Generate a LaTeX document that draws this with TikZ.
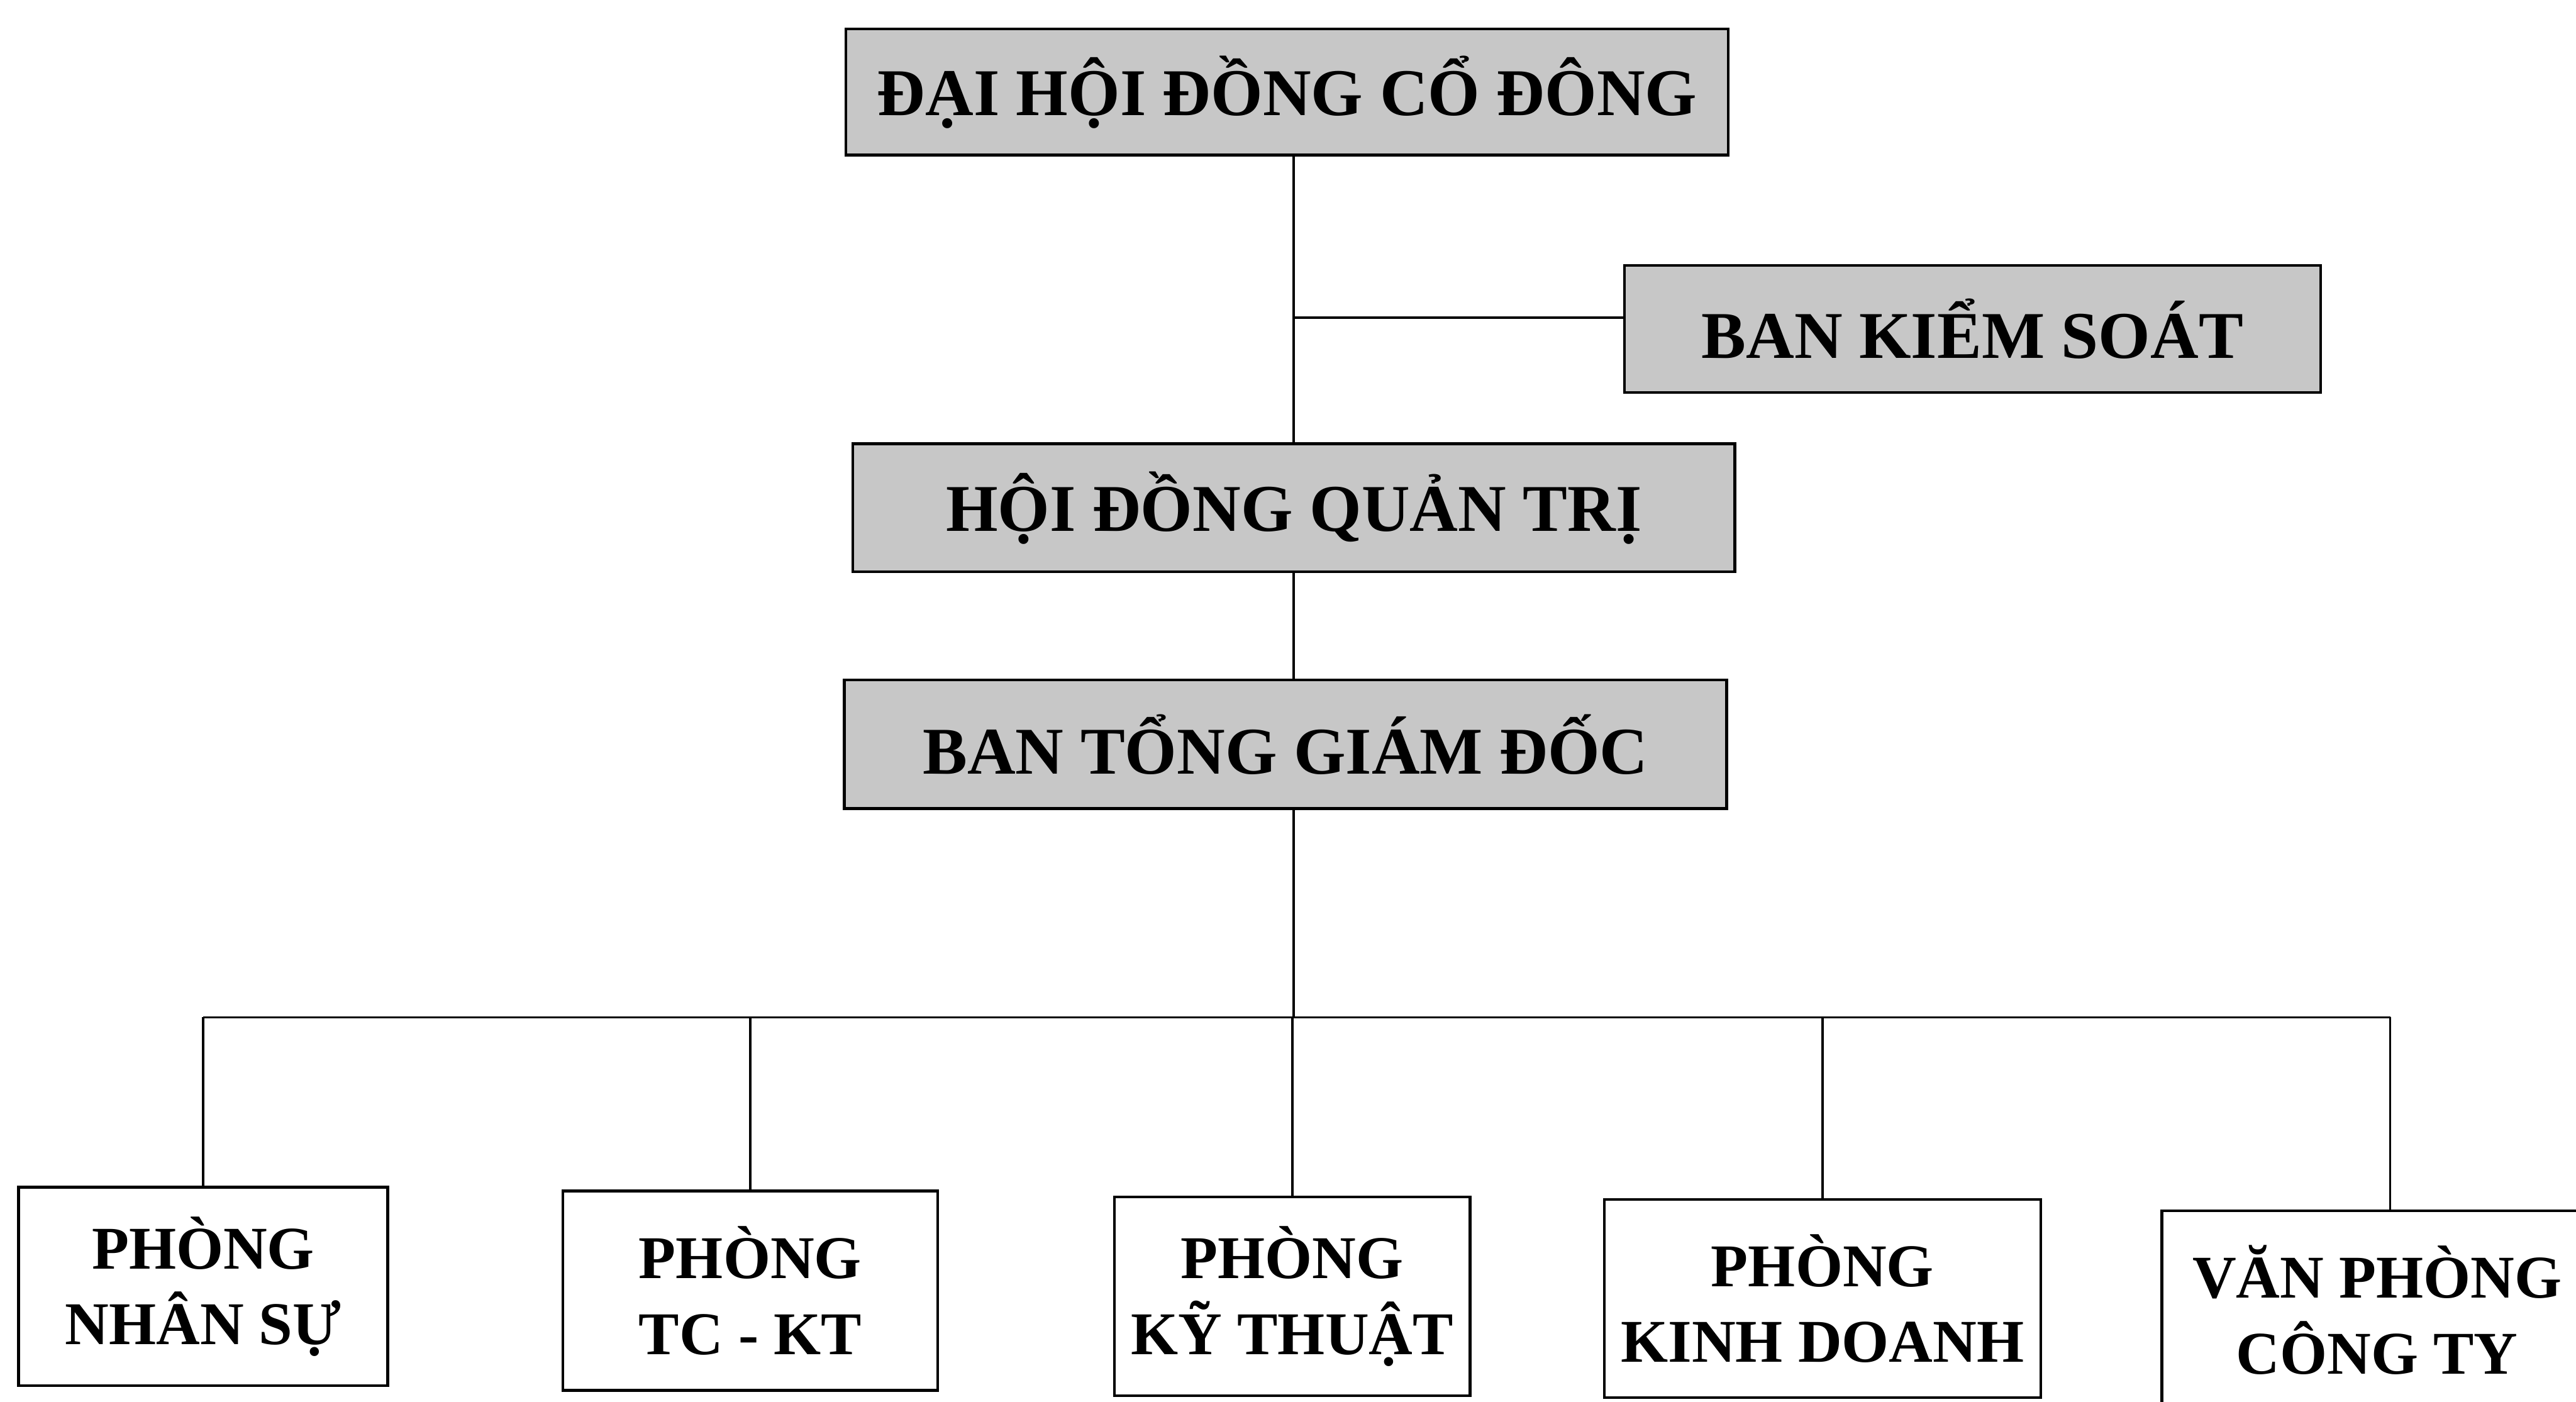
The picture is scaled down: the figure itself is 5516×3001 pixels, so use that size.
\documentclass[tikz,border=0pt]{standalone}
\usepackage{fontspec}
\setmainfont{Liberation Serif}
\begin{document}
\begin{tikzpicture}[x=0.1pt,y=-0.1pt,
  box/.style={draw=black,line width=0.6pt,rectangle,inner sep=0pt,align=center,font=\bfseries},
  topbox/.style={box,fill=black!22,font=\fontsize{14.3}{17}\selectfont\bfseries},
  botbox/.style={box,fill=white,font=\fontsize{13}{16.2}\selectfont\bfseries},
  conn/.style={draw=black,line width=0.5pt}]
\useasboundingbox (0,0) rectangle (5516,3001);
\clip (0,0) rectangle (5516,3001);
\fill[white] (0,0) rectangle (5516,3001);

\node[topbox,minimum width=189.0pt,minimum height=27.0pt] (dh) at (2756,197) {ĐẠI HỘI ĐỒNG CỔ ĐÔNG};
\node[topbox,minimum width=149.1pt,minimum height=27.2pt] (bks) at (4223.5,704) {BAN KIỂM SOÁT};
\node[topbox,minimum width=188.9pt,minimum height=27.4pt] (hd) at (2770.5,1087) {HỘI ĐỒNG QUẢN TRỊ};
\node[topbox,minimum width=188.9pt,minimum height=27.5pt] (bt) at (2752.5,1593.5) {BAN TỔNG GIÁM ĐỐC};

\node[botbox,minimum width=79.0pt,minimum height=42.5pt] (pns) at (435,2754.5) {PHÒNG\\NHÂN SỰ};
\node[botbox,minimum width=80.3pt,minimum height=42.7pt] (tc) at (1606.5,2763.5) {PHÒNG\\TC - KT};
\node[botbox,minimum width=76.2pt,minimum height=42.5pt] (kt) at (2767,2775.5) {PHÒNG\\KỸ THUẬT};
\node[botbox,minimum width=93.5pt,minimum height=42.4pt] (kd) at (3902.5,2780) {PHÒNG\\KINH DOANH};
\node[botbox,minimum width=92.2pt,minimum height=42.5pt] (vp) at (5090,2804.5) {VĂN PHÒNG\\CÔNG TY};

\coordinate (sp) at (2770,0);
\coordinate (bus) at (2770,2178);
\coordinate (vpdrop) at (5118,2178);

\draw[conn] (dh.south -| sp) -- (hd.north -| sp);
\draw[conn] ([yshift=2.4pt]bks.west) -- ([yshift=2.4pt]bks.west -| sp);
\draw[conn] (hd.south -| sp) -- (bt.north -| sp);
\draw[conn] (bt.south -| sp) -- (bus);
\draw[conn] (bus -| pns.north) -- (vpdrop);
\draw[conn] (bus -| pns.north) -- (pns.north);
\draw[conn] (bus -| tc.north) -- (tc.north);
\draw[conn] (bus -| kt.north) -- (kt.north);
\draw[conn] (bus -| kd.north) -- (kd.north);
\draw[conn] (vpdrop) -- (vpdrop |- vp.north);
\end{tikzpicture}
\end{document}
